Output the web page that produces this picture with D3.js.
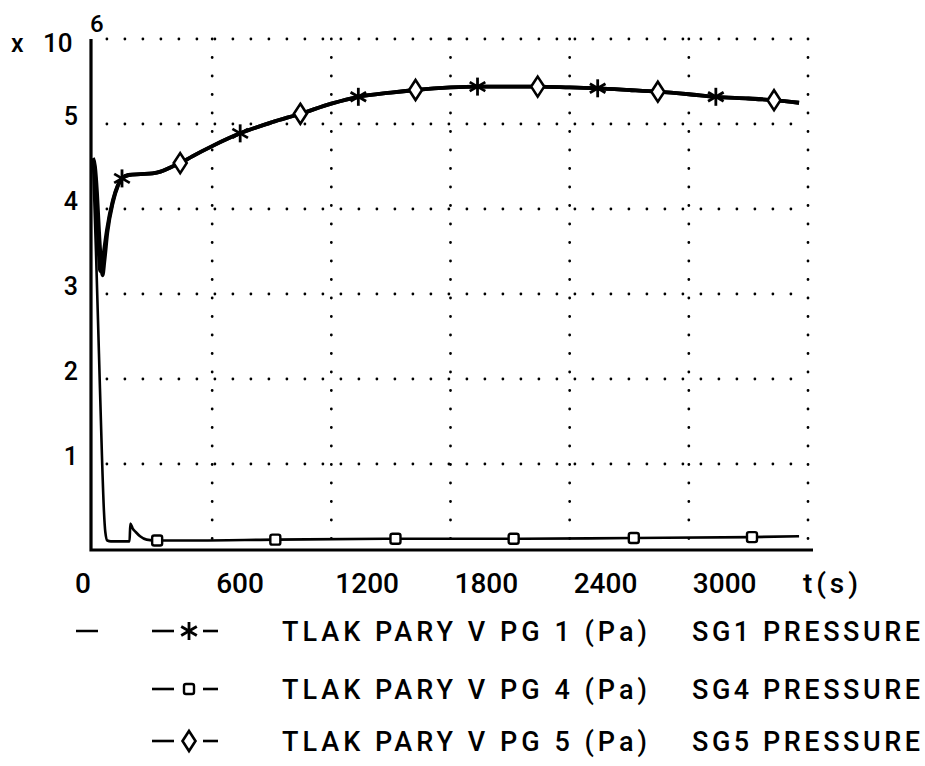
<!DOCTYPE html>
<html>
<head>
<meta charset="utf-8">
<script src="https://cdn.jsdelivr.net/npm/d3@7"></script>
<style>
  body { margin: 0; background: #fff; }
  text { font-family: Roboto, "DejaVu Sans", sans-serif; font-weight: 500; fill: #000; }
</style>
</head>
<body>
<script>
// time axis (s) and pressure (x 10^6 Pa)
var xTicks = [0, 600, 1200, 1800, 2400, 3000];
var yTicks = [1, 2, 3, 4, 5];
var gridX = [600, 1200, 1800, 2400, 3000, 3600];
var gridY = [1, 2, 3, 4, 5, 6];

// SG1 pressure (thick line, star markers)
var sg1T = [0, 10, 20, 30, 36, 45, 55, 70, 100, 125, 146, 180, 240, 300, 340, 400, 439, 500, 600, 741, 900, 1044, 1200, 1336, 1500, 1624, 1800, 1936, 2100, 2239, 2400, 2541, 2700, 2844, 3000, 3136, 3300, 3429, 3555];
var sg1P = [4.58, 4.4, 3.95, 3.45, 3.27, 3.32, 3.5, 3.75, 4.1, 4.28, 4.36, 4.4, 4.41, 4.42, 4.44, 4.5, 4.54, 4.62, 4.74, 4.89, 5.02, 5.12, 5.24, 5.32, 5.37, 5.4, 5.43, 5.44, 5.44, 5.44, 5.43, 5.42, 5.4, 5.38, 5.35, 5.32, 5.3, 5.28, 5.25];
var sg1Marks = [146, 741, 1336, 1936, 2541, 3136];

// SG5 pressure (thick line, diamond markers)
var sg5T = [0, 10, 20, 30, 40, 48, 58, 72, 100, 125, 146, 180, 240, 300, 340, 400, 439, 500, 600, 741, 900, 1044, 1200, 1336, 1500, 1624, 1800, 1936, 2100, 2239, 2400, 2541, 2700, 2844, 3000, 3136, 3300, 3429, 3555];
var sg5P = [4.6, 4.5, 4.2, 3.75, 3.38, 3.22, 3.4, 3.72, 4.08, 4.27, 4.36, 4.4, 4.41, 4.42, 4.44, 4.5, 4.54, 4.62, 4.74, 4.89, 5.02, 5.12, 5.24, 5.32, 5.37, 5.4, 5.43, 5.44, 5.44, 5.44, 5.43, 5.42, 5.4, 5.38, 5.35, 5.32, 5.3, 5.28, 5.25];
var sg5Marks = [439, 1044, 1624, 2239, 2844, 3429];

// SG4 pressure (thin line, square markers)
var sg4T = [0, 15, 30, 45, 55, 62, 72, 90, 130, 184, 188, 200, 215, 237, 270, 323, 500, 918, 1523, 2118, 2723, 3318, 3555];
var sg4P = [4.58, 3.5, 2.3, 1.1, 0.45, 0.2, 0.1, 0.09, 0.09, 0.09, 0.3, 0.24, 0.2, 0.15, 0.11, 0.1, 0.1, 0.11, 0.12, 0.12, 0.13, 0.14, 0.15];
var sg4Marks = [323, 918, 1523, 2118, 2723, 3318];

var legendKeys = ['TLAK PARY V PG 1 (Pa)', 'TLAK PARY V PG 4 (Pa)', 'TLAK PARY V PG 5 (Pa)'];
var legendNames = ['SG1 PRESSURE', 'SG4 PRESSURE', 'SG5 PRESSURE'];
var legendSymbols = ['star', 'square', 'diamond'];

var width = 925, height = 766;
var svg = d3.select('body').append('svg')
    .attr('width', width)
    .attr('height', height);

var x = d3.scaleLinear().domain([0, 3600]).range([93, 808]);
var y = d3.scaleLinear().domain([0, 6]).range([549, 39]);

// dotted grid
var grid = svg.append('g');
grid.selectAll('.gy').data(gridY).enter().append('line')
    .attr('x1', x(70)).attr('x2', x(3600))
    .attr('y1', function (d) { return y(d); })
    .attr('y2', function (d) { return y(d); })
    .attr('stroke', '#000').attr('stroke-width', 2.8)
    .attr('stroke-linecap', 'round')
    .attr('stroke-dasharray', '0 18');
grid.selectAll('.gx').data(gridX).enter().append('line')
    .attr('x1', function (d) { return x(d); })
    .attr('x2', function (d) { return x(d); })
    .attr('y1', y(6)).attr('y2', y(0.1))
    .attr('stroke', '#000').attr('stroke-width', 2.8)
    .attr('stroke-linecap', 'round')
    .attr('stroke-dasharray', '0 18.5');

// axes frame (left + bottom)
svg.append('path')
    .attr('d', 'M' + (x(0) - 2) + ',' + y(6) + 'V' + (y(0) + 1) + 'H' + (x(3600) + 5))
    .attr('fill', 'none').attr('stroke', '#000').attr('stroke-width', 3.2);

// tick labels
svg.selectAll('.yl').data(yTicks).enter().append('text')
    .attr('x', 78).attr('y', function (d) { return y(d) + 1; })
    .attr('text-anchor', 'end')
    .style('font-size', '25px').text(function (d) { return d; });
svg.selectAll('.xl').data(xTicks).enter().append('text')
    .attr('x', function (d) { return d === 0 ? x(d) - 2 : x(d) + 4; })
    .attr('y', 593).attr('text-anchor', function (d) { return d === 0 ? 'end' : 'start'; })
    .style('font-size', '28px').text(function (d) { return d; });
svg.append('text').attr('x', 803).attr('y', 593)
    .attr('textLength', 55).attr('lengthAdjust', 'spacing')
    .style('font-size', '28px').text('t(s)');
svg.append('text').attr('x', 11).attr('y', 52)
    .style('font-size', '25px').text('x');
svg.append('text').attr('x', 43).attr('y', 52)
    .style('font-size', '26px').text('10');
svg.append('text').attr('x', 90).attr('y', 32)
    .style('font-size', '24px').text('6');

// curves
function lineOf(ts, ps) {
    return d3.line()
        .x(function (i) { return x(ts[i]); })
        .y(function (i) { return y(ps[i]); })
        .curve(d3.curveMonotoneX)(d3.range(ts.length));
}
svg.append('path').attr('d', lineOf(sg4T, sg4P))
    .attr('fill', 'none').attr('stroke', '#000').attr('stroke-width', 2.6);
svg.append('path').attr('d', lineOf(sg5T, sg5P))
    .attr('fill', 'none').attr('stroke', '#000').attr('stroke-width', 3.8);
svg.append('path').attr('d', lineOf(sg1T, sg1P))
    .attr('fill', 'none').attr('stroke', '#000').attr('stroke-width', 3.8);

// marker shapes
function drawSymbol(g, kind, cx, cy) {
    if (kind === 'star') {
        var r = 9;
        [90, 30, 150].forEach(function (a) {
            var rad = a * Math.PI / 180;
            g.append('line')
                .attr('x1', cx - r * Math.cos(rad)).attr('y1', cy - r * Math.sin(rad))
                .attr('x2', cx + r * Math.cos(rad)).attr('y2', cy + r * Math.sin(rad))
                .attr('stroke', '#000').attr('stroke-width', 2.8);
        });
    } else if (kind === 'diamond') {
        g.append('path')
            .attr('d', 'M' + cx + ',' + (cy - 10) + 'L' + (cx + 6.5) + ',' + cy + 'L' + cx + ',' + (cy + 10) + 'L' + (cx - 6.5) + ',' + cy + 'Z')
            .attr('fill', '#fff').attr('stroke', '#000').attr('stroke-width', 2.6);
    } else {
        g.append('rect')
            .attr('x', cx - 5).attr('y', cy - 5).attr('width', 10).attr('height', 10)
            .attr('rx', 2)
            .attr('fill', '#fff').attr('stroke', '#000').attr('stroke-width', 2.4);
    }
}

function markSeries(ts, ps, marks, kind) {
    var g = svg.append('g');
    marks.forEach(function (m) {
        var i = ts.indexOf(m);
        drawSymbol(g, kind, x(ts[i]), y(ps[i]));
    });
}
markSeries(sg4T, sg4P, sg4Marks, 'square');
markSeries(sg5T, sg5P, sg5Marks, 'diamond');
markSeries(sg1T, sg1P, sg1Marks, 'star');

// legend
var rowY = [631, 689, 741];
var leg = svg.append('g');
leg.append('line').attr('x1', 76).attr('x2', 98)
    .attr('y1', rowY[0]).attr('y2', rowY[0])
    .attr('stroke', '#000').attr('stroke-width', 2.5);
legendKeys.forEach(function (k, i) {
    var ry = rowY[i];
    leg.append('line').attr('x1', 152).attr('x2', 174).attr('y1', ry).attr('y2', ry)
        .attr('stroke', '#000').attr('stroke-width', 2.6);
    leg.append('line').attr('x1', 203).attr('x2', 218).attr('y1', ry).attr('y2', ry)
        .attr('stroke', '#000').attr('stroke-width', 2.6);
    drawSymbol(leg, legendSymbols[i], 189, ry);
    leg.append('text').attr('x', 282).attr('y', ry).attr('dy', '0.36em')
        .attr('textLength', 365).attr('lengthAdjust', 'spacing')
        .style('font-size', '27px').text(k);
    leg.append('text').attr('x', 692).attr('y', ry).attr('dy', '0.36em')
        .attr('textLength', 228).attr('lengthAdjust', 'spacing')
        .style('font-size', '27px').text(legendNames[i]);
});
</script>
</body>
</html>
